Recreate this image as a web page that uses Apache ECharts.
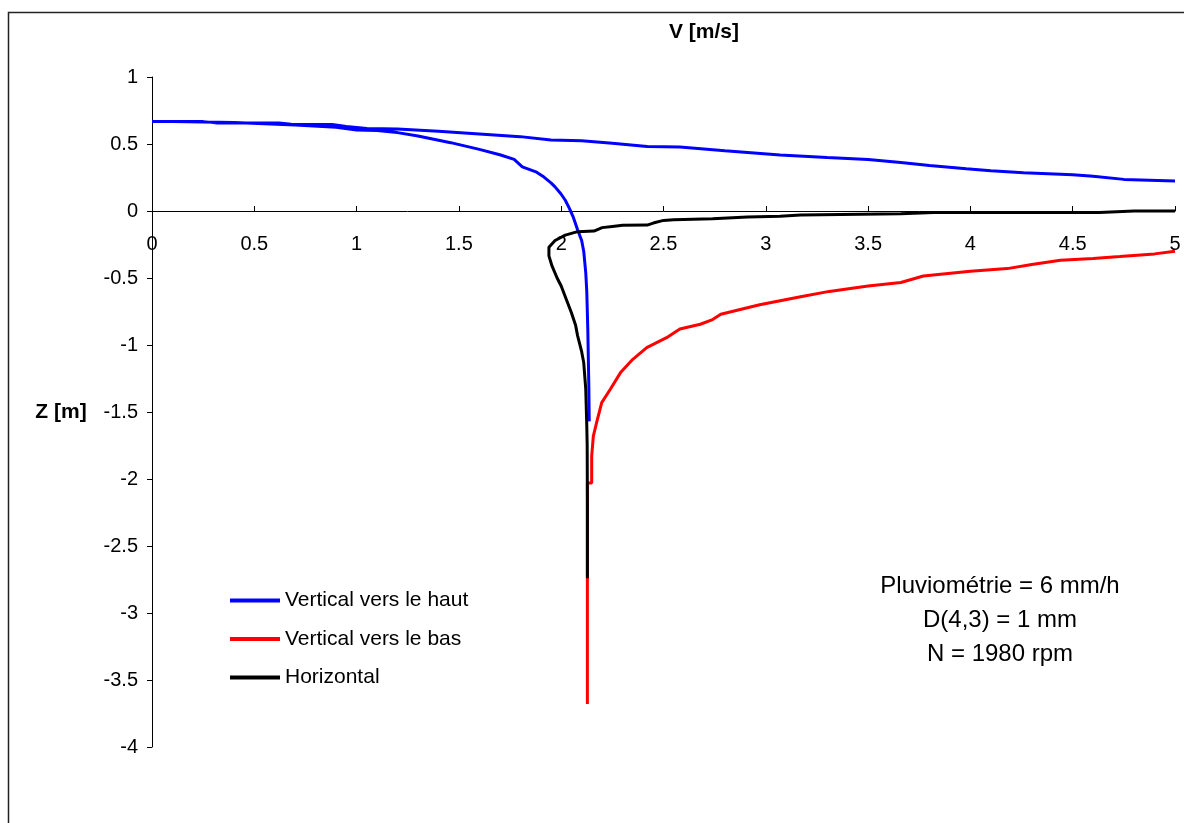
<!DOCTYPE html>
<html>
<head>
<meta charset="utf-8">
<script src="https://cdn.jsdelivr.net/npm/echarts@6/dist/echarts.min.js"></script>
<style>
html,body{margin:0;padding:0;background:#fff;}
#c{width:1184px;height:823px;}
</style>
</head>
<body>
<div id="c"></div>
<script>
// Vertical vers le haut (V [m/s], Z [m])
const blueV = [2.137,2.135,2.13,2.125,2.12,2.11,2.10,2.08,2.06,2.04,2.02,2.0,1.97,1.95,1.91,1.88,1.81,1.77,1.70,1.60,1.46,1.30,1.20,1.10,1.0,0.9,0.7,0.4,0.1,0,
  0.25,0.32,0.62,0.68,0.88,0.95,1.05,1.2,1.4,1.6,1.8,1.95,2.1,2.25,2.42,2.58,2.8,3.07,3.3,3.5,3.66,3.8,3.98,4.1,4.26,4.5,4.6,4.75,5.0];
const blueZ = [-1.57,-1.3,-0.88,-0.6,-0.46,-0.30,-0.22,-0.14,-0.05,0.02,0.08,0.125,0.18,0.21,0.26,0.29,0.33,0.385,0.42,0.46,0.51,0.56,0.585,0.60,0.605,0.625,0.642,0.66,0.667,0.667,
  0.667,0.657,0.657,0.647,0.645,0.63,0.615,0.612,0.595,0.575,0.555,0.53,0.525,0.505,0.482,0.478,0.45,0.418,0.40,0.385,0.362,0.34,0.315,0.30,0.286,0.27,0.26,0.236,0.224];
// Vertical vers le bas
const redV = [5.0,4.9,4.73,4.6,4.44,4.3,4.18,4.0,3.77,3.66,3.5,3.31,3.17,3.07,2.97,2.78,2.74,2.68,2.58,2.515,2.418,2.35,2.29,2.24,2.198,2.173,2.157,2.149,2.149,2.128,2.128];
const redZ = [-0.30,-0.32,-0.34,-0.355,-0.368,-0.40,-0.43,-0.45,-0.485,-0.534,-0.56,-0.60,-0.64,-0.67,-0.70,-0.77,-0.81,-0.845,-0.88,-0.945,-1.02,-1.107,-1.206,-1.33,-1.43,-1.58,-1.68,-1.83,-2.03,-2.03,-3.68];
// Horizontal
const blackV = [5.0,4.8,4.63,3.82,3.66,3.17,3.07,2.91,2.74,2.55,2.5,2.45,2.42,2.30,2.25,2.20,2.16,2.08,2.02,1.97,1.94,1.94,1.955,1.98,2.0,2.02,2.05,2.07,2.08,2.10,2.11,2.12,2.125,2.127,2.128,2.128];
const blackZ = [0,0,-0.012,-0.012,-0.02,-0.03,-0.04,-0.045,-0.057,-0.065,-0.07,-0.09,-0.105,-0.107,-0.115,-0.124,-0.15,-0.154,-0.18,-0.22,-0.27,-0.335,-0.41,-0.5,-0.56,-0.64,-0.76,-0.85,-0.93,-1.05,-1.13,-1.33,-1.6,-1.75,-2.2,-2.74];

const seriesNames = ['Vertical vers le haut','Vertical vers le bas','Horizontal'];
const annotationLines = ['Pluviométrie = 6 mm/h','D(4,3) = 1 mm','N = 1980 rpm'];
const xTitle = 'V [m/s]';
const yTitle = 'Z [m]';

const Y_MIN = -4, Y_MAX = 1;
const GRID = {left:152,right:9,top:77,bottom:76};
const gridH = 823 - GRID.top - GRID.bottom;
// place the V axis (with its labels) at Z = 0
const xAxisOffset = -gridH * (0 - Y_MIN) / (Y_MAX - Y_MIN);

const zip = (a,b) => a.map((v,i)=>[v,b[i]]);
const FONT = '"Liberation Sans", Arial, sans-serif';

const chart = echarts.init(document.getElementById('c'), null, {renderer:'canvas'});
chart.setOption({
  animation:false,
  backgroundColor:'#fff',
  grid:GRID,
  legend:{
    orient:'vertical', left:230, top:590, itemWidth:50, itemHeight:4, itemGap:17.5, padding:0,
    icon:'rect',
    textStyle:{fontFamily:FONT,fontSize:21,color:'#000'},
    data:seriesNames
  },
  xAxis:{
    type:'value', min:0, max:5, interval:0.5, position:'bottom', offset:xAxisOffset,
    axisLine:{onZero:false, lineStyle:{color:'#000',width:1}},
    axisTick:{show:true, inside:true, length:5, lineStyle:{color:'#000'}},
    axisLabel:{fontFamily:FONT,fontSize:20,color:'#000',margin:23},
    splitLine:{show:false}
  },
  yAxis:{
    type:'value', min:Y_MIN, max:Y_MAX, interval:0.5,
    axisLine:{show:true, lineStyle:{color:'#000',width:1}},
    axisTick:{show:true, length:5, lineStyle:{color:'#000'}},
    axisLabel:{fontFamily:FONT,fontSize:20,color:'#000',margin:14},
    splitLine:{show:false}
  },
  series:[
    {name:seriesNames[0],type:'line',data:zip(blueV,blueZ),showSymbol:false,color:'#0000ff',lineStyle:{width:3,color:'#0000ff'},z:3},
    {name:seriesNames[1],type:'line',data:zip(redV,redZ),showSymbol:false,color:'#ff0000',lineStyle:{width:3,color:'#ff0000'},z:2},
    {name:seriesNames[2],type:'line',data:zip(blackV,blackZ),showSymbol:false,color:'#000000',lineStyle:{width:3,color:'#000000'},z:4}
  ],
  graphic:[
    {type:'rect',shape:{x:8.5,y:12.5,width:1200,height:900},style:{fill:null,stroke:'#222',lineWidth:1.5},silent:true,z:-10},
    {type:'text',style:{text:xTitle,font:'bold 21px '+FONT,fill:'#000',textAlign:'center',textVerticalAlign:'middle'},x:704,y:32},
    {type:'text',style:{text:yTitle,font:'bold 21px '+FONT,fill:'#000',textAlign:'center',textVerticalAlign:'middle'},x:61,y:412},
    {type:'text',style:{text:annotationLines.join('\n'),font:'24px '+FONT,fill:'#000',textAlign:'center',textVerticalAlign:'middle',lineHeight:34},x:1000,y:620}
  ]
});
</script>
</body>
</html>
